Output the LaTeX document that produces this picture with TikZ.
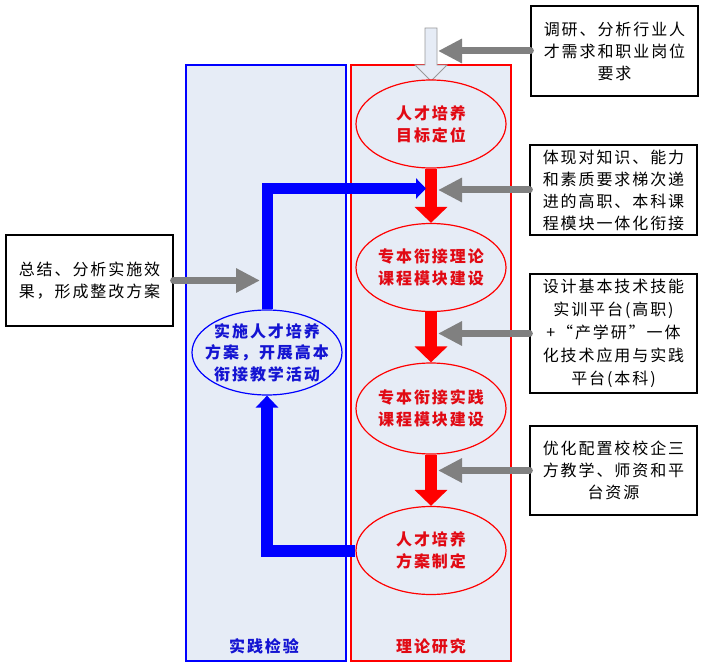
\documentclass[tikz,border=0pt]{standalone}
\usepackage{fontspec}
\setmainfont{Noto Sans CJK SC}[LetterSpace=12]
\usetikzlibrary{arrows.meta,shapes.geometric}
\definecolor{panelbg}{RGB}{230,236,246}
\definecolor{grayarrow}{RGB}{128,128,128}
\definecolor{myblue}{RGB}{0,0,255}
\definecolor{bluetext}{RGB}{20,20,210}
\definecolor{myred}{RGB}{255,0,0}
\definecolor{redtext}{RGB}{225,10,20}
\tikzset{
  panel/.style={line width=1.4pt, fill=panelbg},
  txt/.style={font=\fontsize{16}{22}\selectfont, align=center, inner sep=0pt},
  infobox/.style={txt, draw=black, line width=1.2pt, fill=white, minimum width=167pt},
  redell/.style={ellipse, draw=myred, line width=1.2pt, fill=panelbg, minimum width=150pt, minimum height=88pt, inner sep=0pt, font=\fontsize{16}{22}\selectfont\bfseries, text=redtext, align=center},
  blueell/.style={ellipse, draw=myblue, line width=1.2pt, fill=panelbg, minimum width=150pt, minimum height=85pt, inner sep=0pt},
  bluetxt/.style={font=\fontsize{16}{21.5}\selectfont\bfseries, text=bluetext, align=center, inner sep=0pt},
  redarr/.style={draw=myred, line width=12pt, -{Triangle[width=32pt,length=16pt]}},
  grayarr/.style={draw=grayarrow, line width=7pt, line cap=round, -{Triangle[width=23pt,length=24pt]}},
  bluearrup/.style={draw=myblue, line width=12pt, line join=miter, -{Triangle[width=22pt,length=12pt]}},
  bluearrright/.style={draw=myblue, line width=11pt, line join=miter, -{Triangle[width=20pt,length=10pt]}},
  paneltitle/.style={font=\fontsize{16}{20}\selectfont\bfseries, inner sep=0pt}
}
\begin{document}
\begin{tikzpicture}[x=1pt,y=-1pt]
\useasboundingbox (0,0) rectangle (706,668);
% panels
\draw[panel, draw=myblue] (186,65) rectangle (346,661);
\draw[panel, draw=myred] (351,65) rectangle (511,661);
\node[paneltitle, text=bluetext] (pt1) at (264,646) {实践检验};
\node[paneltitle, text=redtext] (pt2) at (431,646) {理论研究};
% top hollow arrow
\draw[draw=gray!80, fill=panelbg, line width=0.8pt] (425,28) -- (437,28) -- (437,65) -- (447,65) -- (431,81) -- (415,65) -- (425,65) -- cycle;
% ellipses
\node[redell] (e1) at (431,124) {人才培养\\目标定位};
\node[redell] (e2) at (431,267.5) {专本衔接理论\\课程模块建设};
\node[redell, minimum height=91pt] (e3) at (431,408.5) {专本衔接实践\\课程模块建设};
\node[redell] (e4) at (431,550.5) {人才培养\\方案制定};
\node[blueell, label={[bluetxt]center:实施人才培养\\方案，开展高本\\衔接教学活动}] (b) at (267,352.5) {};
% red arrows
\draw[redarr] (e1.south) -- (e2.north);
\draw[redarr] (e2.south) -- (e3.north);
\draw[redarr] (e3.south) -- (e4.north);
% blue arrows
\coordinate (j1) at (426,188.5);
\draw[bluearrup] (e4.west) -| (b.south);
\draw[bluearrright] (b.north) |- (j1);
% info boxes
\node[infobox, minimum height=90pt] (r1) at (614.5,51) {调研、分析行业人\\才需求和职业岗位\\要求};
\node[infobox, minimum height=90pt] (r2) at (613.5,190) {体现对知识、能力\\和素质要求梯次递\\进的高职、本科课\\程模块一体化衔接};
\node[infobox, minimum height=119pt, font=\fontsize{16}{23}\selectfont] (r3) at (613.5,333.5) {设计基本技术技能\\实训平台(高职)\\+“产学研”一体\\化技术应用与实践\\平台(本科)};
\node[infobox, minimum height=89pt] (r4) at (613.5,470.5) {优化配置校校企三\\方教学、师资和平\\台资源};
\node[infobox, minimum height=91pt] (l1) at (89.5,280.5) {总结、分析实施效\\果，形成整改方案};
% gray arrows
\coordinate (g1) at (438,51);
\coordinate (g2) at (438,190);
\coordinate (g3) at (438,333.5);
\coordinate (g4) at (438,470.5);
\coordinate (g5) at (260,280.5);
\draw[grayarr] (r1.west) -- (g1);
\draw[grayarr] (r2.west) -- (g2);
\draw[grayarr] (r3.west) -- (g3);
\draw[grayarr] (r4.west) -- (g4);
\draw[grayarr] (l1.east) -- (g5);
\end{tikzpicture}
\end{document}
